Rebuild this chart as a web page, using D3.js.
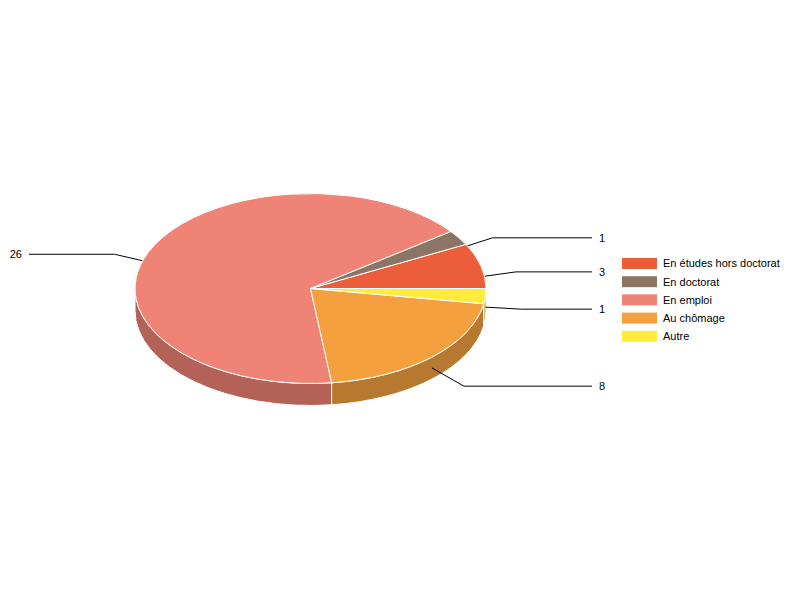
<!DOCTYPE html>
<html>
<head>
<meta charset="utf-8">
<script src="https://cdn.jsdelivr.net/npm/d3@7"></script>
<style>
  html, body { margin: 0; padding: 0; background: #fff; }
  svg { display: block; }
  text { font-family: "Liberation Sans", Arial, sans-serif; font-size: 11px; fill: #000; opacity: 0.999; }
</style>
</head>
<body>
<script>
// chart data
const categories = ['En études hors doctorat', 'En doctorat', 'En emploi', 'Au chômage', 'Autre'];
const values = [3, 1, 26, 8, 1];
const colors = ['#EB5E39', '#8B7666', '#EF8375', '#F4A03F', '#FFEB3B'];

const width = 800;
const height = 600;

// pie geometry
const cx = 310.5;
const cy = 288.5;
const rx = 175.5;
const ry = 95;
const depth = 22;

const svg = d3.select('body')
  .append('svg')
  .attr('width', width)
  .attr('height', height);

// slices run counter-clockwise from 3 o'clock
const pie = d3.pie()
  .sort(null)
  .startAngle(Math.PI / 2)
  .endAngle(Math.PI / 2 - 2 * Math.PI);

const slices = pie(values);
const px = a => cx + rx * Math.sin(a);
const py = a => cy - ry * Math.cos(a);

// leader lines: the ones on the back half go under the pie
const leader = d => {
  const mid = (d.startAngle + d.endAngle) / 2;
  const sx = px(mid);
  const sy = py(mid) + depth / 2;
  const off = py(mid) - cy;
  const ly = cy + depth / 2 + off * (off < 0 ? 1.215 : 1.265);
  const right = sx > cx;
  const knee = 1.065 * Math.abs(sx - cx) + 24;
  return {
    points: [[sx, sy], [cx + (right ? knee : -knee), ly], [right ? 592 : 29, ly]],
    labelX: right ? 599 : 22,
    labelY: ly,
    anchor: right ? 'start' : 'end',
    back: off < 0
  };
};

const line = d3.line();

function drawLeaders(group, data) {
  group.selectAll('path')
    .data(data)
    .enter()
    .append('path')
    .attr('d', d => line(leader(d).points))
    .attr('fill', 'none')
    .attr('stroke', '#000')
    .attr('stroke-width', 1);
}

drawLeaders(svg.append('g'), slices.filter(d => leader(d).back));

// side wall, only the part facing the viewer
const frontStart = -Math.PI / 2;
const frontEnd = -3 * Math.PI / 2;
const wall = d => {
  const a0 = Math.min(d.startAngle, frontStart);
  const a1 = Math.max(d.endAngle, frontEnd);
  if (a0 <= a1) return null;
  return `M${px(a0)},${py(a0)}A${rx},${ry} 0 0 0 ${px(a1)},${py(a1)}` +
    `L${px(a1)},${py(a1) + depth}A${rx},${ry} 0 0 1 ${px(a0)},${py(a0) + depth}Z`;
};

svg.append('g')
  .selectAll('path')
  .data(slices)
  .enter()
  .append('path')
  .attr('d', wall)
  .attr('fill', (d, i) => d3.color(colors[i]).darker(0.8))
  .attr('stroke', '#fff')
  .attr('stroke-width', 1);

// top of the pie
const arc = d3.arc()
  .innerRadius(0)
  .outerRadius(rx);

svg.append('g')
  .attr('transform', `translate(${cx},${cy}) scale(1,${ry / rx})`)
  .selectAll('path')
  .data(slices)
  .enter()
  .append('path')
  .attr('d', arc)
  .attr('fill', (d, i) => colors[i])
  .attr('stroke', '#fff')
  .attr('stroke-width', 1)
  .attr('vector-effect', 'non-scaling-stroke');

drawLeaders(svg.append('g'), slices.filter(d => !leader(d).back));

// value labels
svg.append('g')
  .selectAll('text')
  .data(slices)
  .enter()
  .append('text')
  .attr('x', d => leader(d).labelX)
  .attr('y', d => leader(d).labelY)
  .attr('dy', '0.35em')
  .attr('text-anchor', d => leader(d).anchor)
  .text(d => d.value);

// legend
const legendY = d3.scalePoint()
  .domain(categories)
  .range([263.5, 336.3]);

const legend = svg.append('g')
  .selectAll('g')
  .data(categories)
  .enter()
  .append('g')
  .attr('transform', d => `translate(622,${legendY(d)})`);

legend.append('rect')
  .attr('y', -5.5)
  .attr('width', 35)
  .attr('height', 11)
  .attr('fill', (d, i) => colors[i]);

legend.append('text')
  .attr('x', 41)
  .attr('dy', '0.35em')
  .text(d => d);
</script>
</body>
</html>
